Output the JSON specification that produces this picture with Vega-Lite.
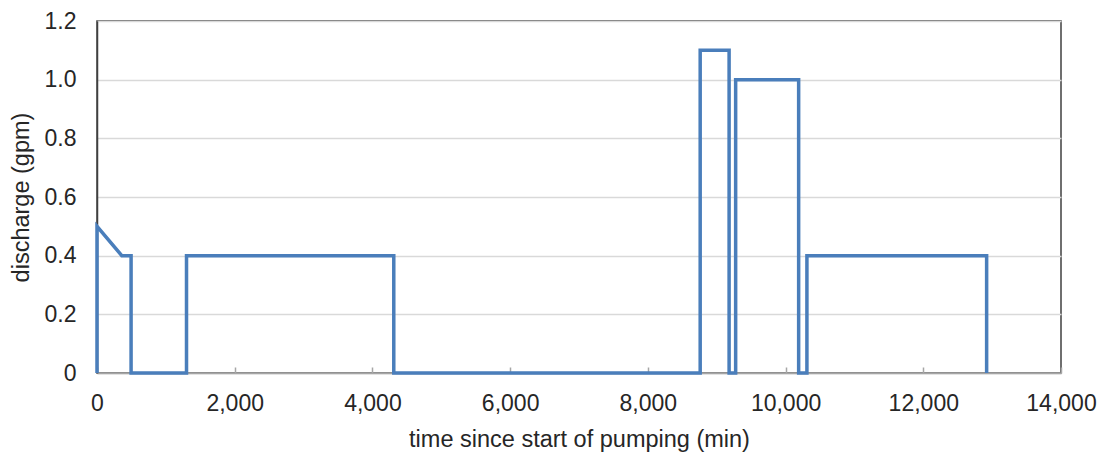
{
  "$schema": "https://vega.github.io/schema/vega-lite/v6.json",
  "autosize": "none",
  "padding": {"left": 97, "top": 21, "right": 44, "bottom": 86},
  "width": 964,
  "height": 352,
  "background": "white",
  "config": {
    "font": "Liberation Sans",
    "view": {"stroke": "#404040", "strokeWidth": 1.5},
    "axis": {"labelFont": "Liberation Sans", "titleFont": "Liberation Sans", "labelColor": "#262626", "titleColor": "#262626", "titleFontWeight": "normal"}
  },
  "data": {
    "values": [
      {"i": 0, "time": 0, "discharge": 0},
      {"i": 1, "time": 0, "discharge": 0.5},
      {"i": 2, "time": 360, "discharge": 0.4},
      {"i": 3, "time": 495, "discharge": 0.4},
      {"i": 4, "time": 495, "discharge": 0},
      {"i": 5, "time": 1300, "discharge": 0},
      {"i": 6, "time": 1300, "discharge": 0.4},
      {"i": 7, "time": 4310, "discharge": 0.4},
      {"i": 8, "time": 4310, "discharge": 0},
      {"i": 9, "time": 8760, "discharge": 0},
      {"i": 10, "time": 8760, "discharge": 1.1},
      {"i": 11, "time": 9180, "discharge": 1.1},
      {"i": 12, "time": 9180, "discharge": 0},
      {"i": 13, "time": 9275, "discharge": 0},
      {"i": 14, "time": 9275, "discharge": 1.0},
      {"i": 15, "time": 10190, "discharge": 1.0},
      {"i": 16, "time": 10190, "discharge": 0},
      {"i": 17, "time": 10310, "discharge": 0},
      {"i": 18, "time": 10310, "discharge": 0.4},
      {"i": 19, "time": 12920, "discharge": 0.4},
      {"i": 20, "time": 12920, "discharge": 0}
    ]
  },
  "mark": {"type": "line", "color": "#4a7ebb", "strokeWidth": 3.5, "strokeJoin": "miter"},
  "encoding": {
    "x": {
      "field": "time", "type": "quantitative",
      "scale": {"domain": [0, 14000], "nice": false, "zero": false},
      "axis": {
        "title": "time since start of pumping (min)",
        "values": [0, 2000, 4000, 6000, 8000, 10000, 12000, 14000],
        "format": ",.0f",
        "grid": false,
        "domainColor": "#a6a6a6", "domainWidth": 1.5,
        "tickColor": "#a6a6a6", "tickSize": -6, "tickWidth": 1.5,
        "labelFontSize": 23, "labelPadding": 25, "labelFlush": false,
        "titleFontSize": 23.5, "titlePadding": 12
      }
    },
    "y": {
      "field": "discharge", "type": "quantitative",
      "scale": {"domain": [0, 1.2], "nice": false},
      "axis": {
        "title": "discharge (gpm)",
        "values": [0, 0.2, 0.4, 0.6, 0.8, 1.0, 1.2],
        "labelExpr": "datum.value == 0 ? '0' : format(datum.value, '.1f')",
        "grid": true, "gridColor": "#d9d9d9", "gridWidth": 1.5,
        "domainColor": "#404040", "domainWidth": 1.5,
        "ticks": false,
        "labelFontSize": 23, "labelPadding": 21, "labelFlush": false,
        "titleFontSize": 23.5, "titlePadding": 11
      }
    },
    "order": {"field": "i", "type": "quantitative"}
  }
}
